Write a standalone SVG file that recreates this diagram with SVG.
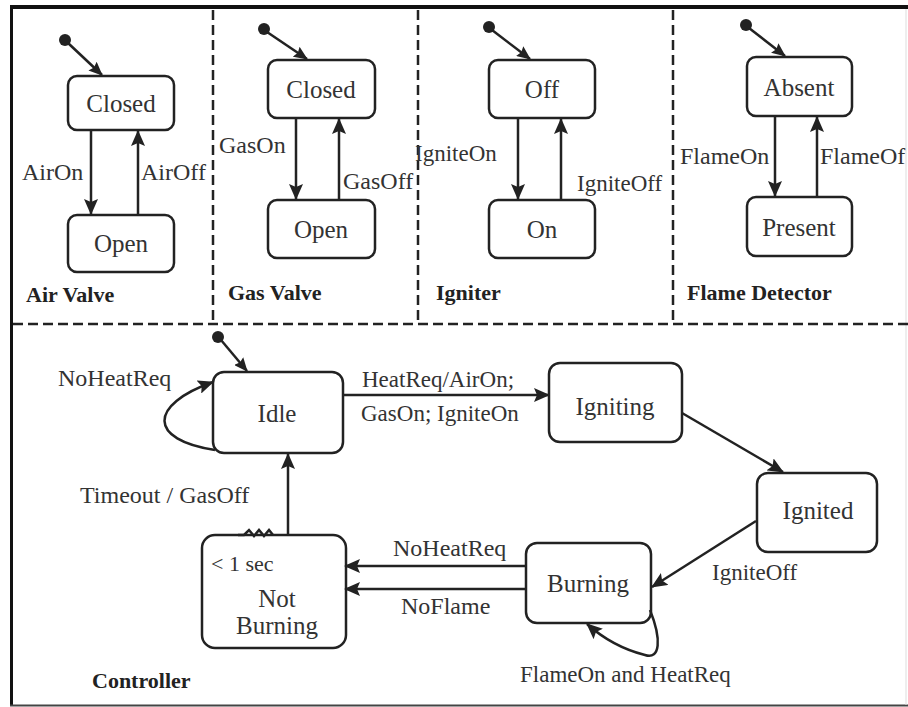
<svg xmlns="http://www.w3.org/2000/svg" width="908" height="707" viewBox="0 0 908 707">
  <style>
    .state { fill: #ffffff; stroke: #222; stroke-width: 2.5; }
    .name { font-family: "Liberation Serif", "Times New Roman", serif; font-size: 25px; fill: #333; text-anchor: middle; }
    .lbl { font-family: "Liberation Serif", "Times New Roman", serif; font-size: 24px; fill: #333; }
    .title { font-family: "Liberation Serif", "Times New Roman", serif; font-size: 22px; font-weight: bold; fill: #222; }
    .edge { fill: none; stroke: #222; stroke-width: 2.5; }
    .sep { fill: none; stroke: #222; stroke-width: 2.5; stroke-dasharray: 10 5; }
    .init { fill: #222; }
  </style>
  <defs>
    <marker id="arrow" viewBox="0 0 16 14" refX="15" refY="7" markerWidth="16" markerHeight="14" markerUnits="userSpaceOnUse" orient="auto">
      <path d="M0,0 L16,7 L0,14 L3,7 Z" fill="#222"/>
    </marker>
    <marker id="arrowSmall" viewBox="0 0 14 12" refX="13" refY="6" markerWidth="14" markerHeight="12" markerUnits="userSpaceOnUse" orient="auto">
      <path d="M0,0 L14,6 L0,12 L2,6 Z" fill="#222"/>
    </marker>
  </defs>

  <rect x="0" y="0" width="908" height="707" fill="#ffffff"/>

  <!-- outer frame -->
  <g id="frame">
    <line x1="10" y1="7" x2="908" y2="7" stroke="#111" stroke-width="4"/>
    <line x1="11.5" y1="6" x2="11.5" y2="706" stroke="#111" stroke-width="3"/>
    <line x1="10" y1="705.5" x2="908" y2="705.5" stroke="#444" stroke-width="2"/>
    <line x1="906" y1="9" x2="906" y2="705" stroke="#ddd" stroke-width="1"/>
  </g>

  <!-- panel separators -->
  <g id="separators">
    <line class="sep" x1="213" y1="10" x2="213" y2="324"/>
    <line class="sep" x1="418" y1="10" x2="418" y2="324"/>
    <line class="sep" x1="673" y1="10" x2="673" y2="324"/>
    <line class="sep" x1="13" y1="324" x2="908" y2="324"/>
  </g>

  <!-- Air Valve -->
  <g id="air-valve">
    <circle class="init" cx="65" cy="40" r="6"/>
    <g id="air-closed"><rect class="state" x="68" y="76" width="106" height="54" rx="9"/><text class="name" x="121" y="112">Closed</text></g>
    <g id="air-open"><rect class="state" x="68" y="215" width="106" height="57" rx="9"/><text class="name" x="121" y="252">Open</text></g>
    <text class="title" x="26" y="302">Air Valve</text>
  </g>

  <!-- Gas Valve -->
  <g id="gas-valve">
    <circle class="init" cx="264" cy="29" r="6"/>
    <g id="gas-closed"><rect class="state" x="268" y="60" width="107" height="58" rx="9"/><text class="name" x="321" y="98">Closed</text></g>
    <g id="gas-open"><rect class="state" x="268" y="200" width="107" height="58" rx="9"/><text class="name" x="321" y="238">Open</text></g>
    <text class="title" x="228" y="300">Gas Valve</text>
  </g>

  <!-- Igniter -->
  <g id="igniter">
    <circle class="init" cx="489" cy="27" r="6"/>
    <g id="ign-off"><rect class="state" x="489" y="60" width="106" height="58" rx="9"/><text class="name" x="542" y="98">Off</text></g>
    <g id="ign-on"><rect class="state" x="489" y="200" width="106" height="58" rx="9"/><text class="name" x="542" y="238">On</text></g>
    <text class="title" x="436" y="300">Igniter</text>
  </g>

  <!-- Flame Detector -->
  <g id="flame-detector">
    <circle class="init" cx="746" cy="25" r="6"/>
    <g id="fd-absent"><rect class="state" x="747" y="57" width="105" height="59" rx="9"/><text class="name" x="799" y="96">Absent</text></g>
    <g id="fd-present"><rect class="state" x="747" y="197" width="105" height="59" rx="9"/><text class="name" x="799" y="236">Present</text></g>
    <text class="title" x="687" y="300">Flame Detector</text>
  </g>

  <!-- Controller -->
  <g id="controller">
    <circle class="init" cx="218" cy="337" r="6"/>
    <g id="idle"><rect class="state" x="213" y="372" width="130" height="81" rx="11"/><text class="name" x="277" y="422">Idle</text></g>
    <g id="igniting"><rect class="state" x="549" y="363" width="133" height="79" rx="11"/><text class="name" x="615" y="415">Igniting</text></g>
    <g id="ignited"><rect class="state" x="757" y="473" width="120" height="79" rx="11"/><text class="name" x="818" y="519">Ignited</text></g>
    <g id="burning"><rect class="state" x="526" y="543" width="125" height="80" rx="11"/><text class="name" x="588" y="592">Burning</text></g>
    <g id="not-burning">
      <rect class="state" x="202" y="535" width="144" height="113" rx="13"/>
      <text class="lbl" x="211" y="571" style="font-size:22px">&lt; 1 sec</text>
      <text class="name" x="277" y="607">Not</text>
      <text class="name" x="277" y="634">Burning</text>
    </g>
    <text class="title" x="92" y="688">Controller</text>
  </g>

  <!-- transitions -->
  <g id="connectors">
    <!-- initial pseudo-state arrows -->
    <line class="edge" x1="68" y1="43" x2="102" y2="75" marker-end="url(#arrowSmall)"/>
    <line class="edge" x1="267" y1="32" x2="307" y2="59" marker-end="url(#arrowSmall)"/>
    <line class="edge" x1="492" y1="30" x2="530" y2="59" marker-end="url(#arrowSmall)"/>
    <line class="edge" x1="749" y1="28" x2="785" y2="56" marker-end="url(#arrowSmall)"/>
    <line class="edge" x1="221" y1="340" x2="247" y2="371" marker-end="url(#arrowSmall)"/>

    <!-- Air Valve -->
    <line class="edge" x1="91" y1="130" x2="91" y2="214" marker-end="url(#arrow)"/>
    <line class="edge" x1="138" y1="215" x2="138" y2="131" marker-end="url(#arrow)"/>
    <text class="lbl" x="22" y="180">AirOn</text>
    <text class="lbl" x="141" y="180">AirOff</text>

    <!-- Gas Valve -->
    <line class="edge" x1="296" y1="118" x2="296" y2="199" marker-end="url(#arrow)"/>
    <line class="edge" x1="339" y1="200" x2="339" y2="119" marker-end="url(#arrow)"/>
    <text class="lbl" x="219" y="153">GasOn</text>
    <text class="lbl" x="343" y="189">GasOff</text>

    <!-- Igniter -->
    <line class="edge" x1="518" y1="118" x2="518" y2="199" marker-end="url(#arrow)"/>
    <line class="edge" x1="561" y1="200" x2="561" y2="119" marker-end="url(#arrow)"/>
    <text class="lbl" x="415" y="161" style="font-size:23px">IgniteOn</text>
    <text class="lbl" x="577" y="191" style="font-size:23px">IgniteOff</text>

    <!-- Flame Detector -->
    <line class="edge" x1="775" y1="116" x2="775" y2="196" marker-end="url(#arrow)"/>
    <line class="edge" x1="817" y1="197" x2="817" y2="117" marker-end="url(#arrow)"/>
    <text class="lbl" x="680" y="164">FlameOn</text>
    <text class="lbl" x="820" y="164">FlameOf</text>

    <!-- Idle self loop -->
    <path class="edge" d="M215,450 C148,440 148,405 213,382" marker-end="url(#arrow)"/>
    <text class="lbl" x="58" y="386">NoHeatReq</text>

    <!-- Idle -> Igniting -->
    <line class="edge" x1="343" y1="395" x2="549" y2="395" marker-end="url(#arrow)"/>
    <text class="lbl" x="362" y="387" style="font-size:23px">HeatReq/AirOn;</text>
    <text class="lbl" x="361" y="421" style="font-size:23px">GasOn; IgniteOn</text>

    <!-- Igniting -> Ignited -->
    <line class="edge" x1="682" y1="413" x2="783" y2="472" marker-end="url(#arrow)"/>

    <!-- Ignited -> Burning -->
    <line class="edge" x1="756" y1="521" x2="652" y2="587" marker-end="url(#arrow)"/>
    <text class="lbl" x="712" y="580" style="font-size:23px">IgniteOff</text>

    <!-- Burning self loop -->
    <path class="edge" d="M650,610 C662,640 660,660 645,655 C625,650 605,640 587,624" marker-end="url(#arrow)"/>
    <text class="lbl" x="520" y="682" style="font-size:23px">FlameOn and HeatReq</text>

    <!-- Burning -> Not Burning -->
    <line class="edge" x1="526" y1="566" x2="345" y2="566" marker-end="url(#arrow)"/>
    <line class="edge" x1="526" y1="589" x2="345" y2="589" marker-end="url(#arrow)"/>
    <text class="lbl" x="393" y="556">NoHeatReq</text>
    <text class="lbl" x="401" y="614">NoFlame</text>

    <!-- Not Burning -> Idle (timeout) -->
    <line class="edge" x1="288" y1="535" x2="288" y2="454" marker-end="url(#arrow)"/>
    <polyline class="edge" points="238,535 244,535 249,530 254,536 259,530 264,536 269,530 273,535"/>
    <text class="lbl" x="80" y="503">Timeout / GasOff</text>
  </g>
</svg>
